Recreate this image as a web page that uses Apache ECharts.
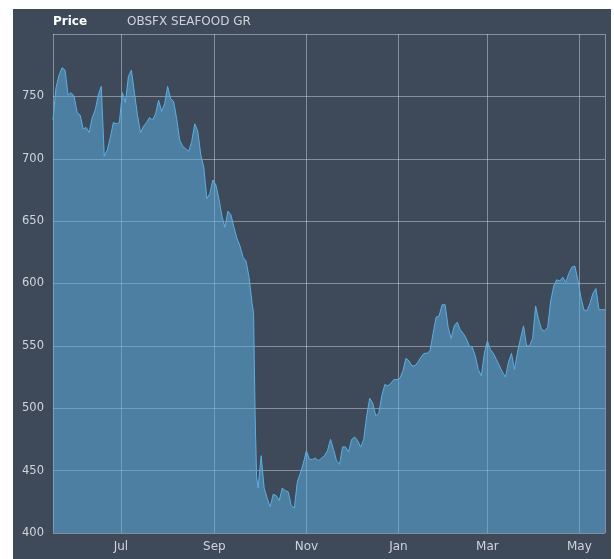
<!DOCTYPE html>
<html>
<head>
<meta charset="utf-8">
<script src="https://cdn.jsdelivr.net/npm/echarts@6/dist/echarts.min.js"></script>
<style>
  html, body { margin: 0; padding: 0; background: #ffffff; }
  #chart { position: absolute; left: 13px; top: 9px; width: 598px; height: 550px; }
</style>
</head>
<body>
<div id="chart"></div>
<script>
// price series, sampled roughly every two days
var dates = [
  '2017-05-17','2017-05-19','2017-05-21','2017-05-23','2017-05-25','2017-05-27','2017-05-29','2017-05-31',
  '2017-06-02','2017-06-04','2017-06-06','2017-06-08','2017-06-10','2017-06-12','2017-06-14','2017-06-16',
  '2017-06-18','2017-06-20','2017-06-22','2017-06-24','2017-06-26','2017-06-28','2017-06-30',
  '2017-07-02','2017-07-04','2017-07-06','2017-07-08','2017-07-10','2017-07-12','2017-07-14','2017-07-16',
  '2017-07-18','2017-07-20','2017-07-22','2017-07-24','2017-07-26','2017-07-28','2017-07-30',
  '2017-08-01','2017-08-03','2017-08-05','2017-08-07','2017-08-09','2017-08-11','2017-08-13','2017-08-15',
  '2017-08-17','2017-08-19','2017-08-21','2017-08-23','2017-08-25','2017-08-27','2017-08-29','2017-08-31',
  '2017-09-02','2017-09-04','2017-09-06','2017-09-08','2017-09-10','2017-09-12','2017-09-14','2017-09-16',
  '2017-09-18','2017-09-20','2017-09-22','2017-09-24','2017-09-26','2017-09-27','2017-09-28','2017-09-29','2017-09-30',
  '2017-10-02','2017-10-04','2017-10-06','2017-10-08','2017-10-10','2017-10-12','2017-10-14','2017-10-16',
  '2017-10-18','2017-10-20','2017-10-22','2017-10-24','2017-10-26','2017-10-28','2017-10-30',
  '2017-11-01','2017-11-03','2017-11-05','2017-11-07','2017-11-09','2017-11-11','2017-11-13','2017-11-15',
  '2017-11-17','2017-11-19','2017-11-21','2017-11-23','2017-11-25','2017-11-27','2017-11-29',
  '2017-12-01','2017-12-03','2017-12-05','2017-12-07','2017-12-09','2017-12-11','2017-12-13','2017-12-15',
  '2017-12-17','2017-12-19','2017-12-21','2017-12-23','2017-12-25','2017-12-27','2017-12-29','2017-12-31',
  '2018-01-02','2018-01-04','2018-01-06','2018-01-08','2018-01-10','2018-01-12','2018-01-14','2018-01-16',
  '2018-01-18','2018-01-20','2018-01-22','2018-01-24','2018-01-26','2018-01-28','2018-01-30',
  '2018-02-01','2018-02-03','2018-02-05','2018-02-07','2018-02-09','2018-02-11','2018-02-13','2018-02-15',
  '2018-02-17','2018-02-19','2018-02-21','2018-02-23','2018-02-25','2018-02-27',
  '2018-03-01','2018-03-03','2018-03-05','2018-03-07','2018-03-09','2018-03-11','2018-03-13','2018-03-15',
  '2018-03-17','2018-03-19','2018-03-21','2018-03-23','2018-03-25','2018-03-27','2018-03-29','2018-03-31',
  '2018-04-02','2018-04-04','2018-04-06','2018-04-08','2018-04-10','2018-04-12','2018-04-14','2018-04-16',
  '2018-04-18','2018-04-20','2018-04-22','2018-04-24','2018-04-26','2018-04-28','2018-04-30',
  '2018-05-02','2018-05-04','2018-05-06','2018-05-08','2018-05-10','2018-05-12','2018-05-14','2018-05-16','2018-05-18'
]
var prices = [
  731, 757, 767, 773, 771, 751, 753, 750,
  737, 735, 724, 725, 721, 733, 739, 751,
  758, 702, 707, 717, 729, 728, 729,
  753, 745, 766, 771, 753, 735, 721, 726,
  729, 733, 731, 736, 747, 738, 744,
  758, 748, 746, 732, 715, 710, 708, 706,
  714, 728, 722, 703, 693, 668, 672, 683,
  679, 668, 654, 645, 658, 655, 645, 636,
  630, 621, 618, 605, 584, 576, 495, 445, 436,
  462, 436, 428, 421, 431, 430, 426, 436,
  434, 433, 422, 420, 441, 448, 456,
  466, 459, 459, 460, 458, 460, 462, 466,
  475, 467, 458, 455, 469, 469, 465,
  475, 477, 474, 469, 475, 494, 508, 504,
  494, 496, 510, 519, 518, 520, 523, 523,
  524, 530, 540, 538, 534, 534, 537, 541,
  544, 544, 546, 560, 573, 574, 583,
  583, 565, 556, 566, 569, 563, 560, 556,
  550, 549, 542, 531, 526, 544,
  554, 547, 544, 539, 534, 529, 525, 537,
  544, 531, 545, 556, 566, 550, 550, 556,
  582, 571, 563, 562, 565, 586, 598, 603,
  602, 605, 601, 608, 613, 614, 603,
  589, 579, 578, 584, 592, 596, 579, 579, 579
]
var monthNames = ['Jan','Feb','Mar','Apr','May','Jun','Jul','Aug','Sep','Oct','Nov','Dec']
var chartTitle = 'Price'
var seriesName = 'OBSFX SEAFOOD GR'

var chart = echarts.init(document.getElementById('chart'))
var gridColor = 'rgba(255,255,255,0.38)'
var lineColor = '#5aafe2'
var labelColor = '#d0d4da'

chart.setOption({
  backgroundColor: '#3e4a5a',
  animation: false,
  textStyle: { fontFamily: 'DejaVu Sans' },
  title: [
    {
      text: chartTitle,
      left: 40,
      top: 7,
      padding: 0,
      textStyle: { color: '#ffffff', fontSize: 12, fontWeight: 'bold', fontFamily: 'DejaVu Sans' }
    },
    {
      text: seriesName,
      left: 114,
      top: 7,
      padding: 0,
      textStyle: { color: labelColor, fontSize: 12, fontWeight: 'normal', fontFamily: 'DejaVu Sans' }
    }
  ],
  grid: {
    left: 40,
    right: 6,
    top: 25,
    bottom: 26,
    containLabel: false
  },
  xAxis: {
    type: 'time',
    min: dates[0],
    max: dates[dates.length - 1],
    axisLine: { show: false },
    axisTick: { show: false },
    axisLabel: {
      color: labelColor,
      fontSize: 12,
      margin: 8,
      showMinLabel: false,
      showMaxLabel: false,
      formatter: function (val) {
        return monthNames[new Date(val).getMonth()]
      }
    },
    splitLine: { show: true, lineStyle: { color: gridColor, width: 1 } }
  },
  yAxis: {
    type: 'value',
    min: 400,
    max: 800,
    interval: 50,
    axisLine: { show: false },
    axisTick: { show: false },
    axisLabel: {
      color: labelColor,
      fontSize: 11.5,
      margin: 9,
      showMaxLabel: false
    },
    splitLine: { show: true, lineStyle: { color: gridColor, width: 1 } }
  },
  series: [
    {
      name: seriesName,
      type: 'line',
      symbol: 'none',
      lineStyle: { color: lineColor, width: 1 },
      areaStyle: { color: lineColor, opacity: 0.53 },
      data: dates.map(function (d, i) { return [d, prices[i]] })
    }
  ]
})
</script>
</body>
</html>
